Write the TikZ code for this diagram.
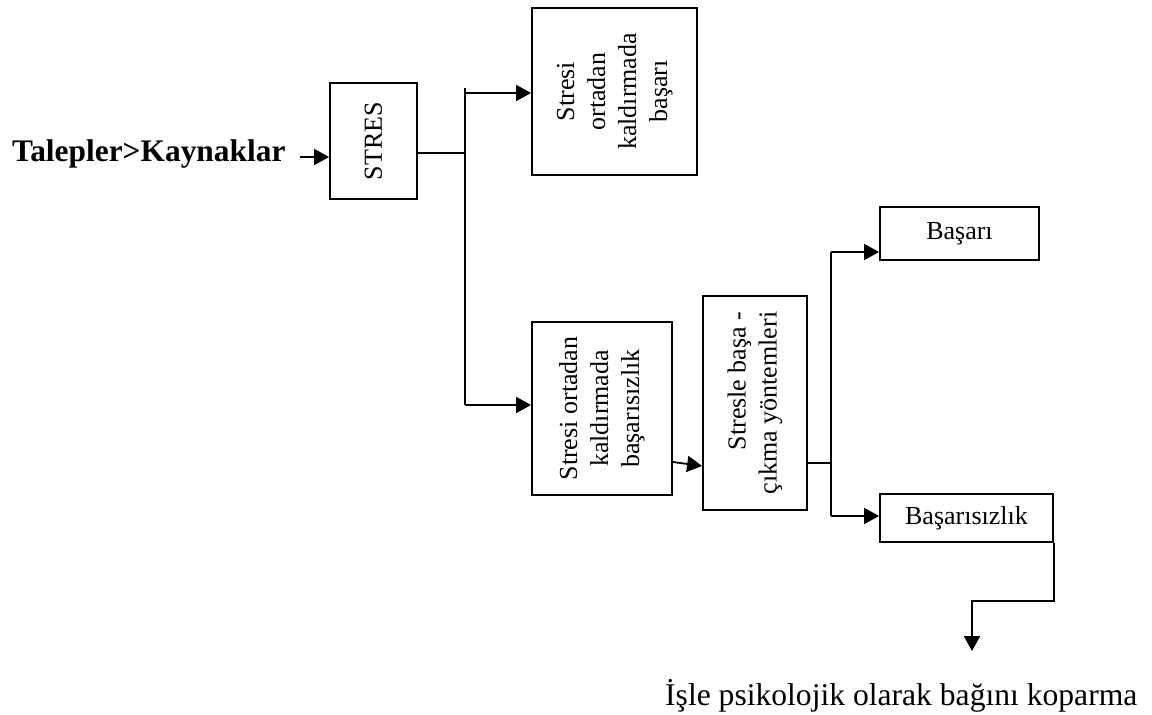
\documentclass[tikz,border=0pt]{standalone}
\usepackage{fontspec}
\setmainfont{Liberation Serif}
\usetikzlibrary{arrows.meta}
\begin{document}
\begin{tikzpicture}[x=1pt,y=-1pt,
  box/.style={draw, line width=1.8pt, inner sep=0pt, font=\fontsize{26}{31}\selectfont},
  big/.style={inner sep=0pt, font=\fontsize{31.6}{36}\selectfont},
  ln/.style={line width=1.8pt},
  arr/.style={ln, -{Triangle[length=15pt,width=16pt]}}]
\useasboundingbox (0,0) rectangle (1152,715);
% nodes
\node[box, minimum width=87pt, minimum height=116pt] (stres) at (373.5,141) {\rotatebox{90}{STRES}};
\node[box, minimum width=165pt, minimum height=167pt] (succ) at (614.5,91.5)
  {\rotatebox{90}{\begin{tabular}{@{}c@{}}Stresi\\ortadan\\kaldırmada\\başarı\end{tabular}}};
\node[box, minimum width=140pt, minimum height=173pt] (fail) at (602,408.5)
  {\rotatebox{90}{\begin{tabular}{@{}c@{}}Stresi ortadan\\kaldırmada\\başarısızlık\end{tabular}}};
\node[box, minimum width=104pt, minimum height=214pt] (cope) at (755,403)
  {\rotatebox{90}{\begin{tabular}{@{}r@{}}Stresle başa -\\çıkma yöntemleri\end{tabular}}};
\node[box, minimum width=159pt, minimum height=53pt] (bas) at (959.5,233.5) {Başarı};
\node[box, minimum width=173pt, minimum height=48pt] (basiz) at (966.5,518) {Başarısızlık};
\node[big, font=\bfseries\fontsize{31.4}{36}\selectfont, anchor=base west] (talep) at (12,161) {Talepler>Kaynaklar};
\node[big, anchor=base west] (isle) at (665,705) {İşle psikolojik olarak bağını koparma};
% coordinates
\coordinate (a0) at (300,157);
\coordinate (j1) at (465,153);
\coordinate (j1t) at (465,88);
\coordinate (j1a) at (465,93);
\coordinate (j1b) at (465,405);
\coordinate (f1) at (672,462);
\coordinate (c1) at (703,466);
\coordinate (j2) at (831,463);
\coordinate (j2a) at (831,252);
\coordinate (j2b) at (831,516);
\coordinate (k1) at (972,601);
\coordinate (tip) at (972,651);
% connectors
\draw[arr] (a0) -- (stres.west |- a0);
\draw[ln] (stres.east |- j1) -- (j1);
\draw[ln] (j1t) -- (j1b);
\draw[arr] (j1a) -- (succ.west |- j1a);
\draw[arr] (j1b) -- (fail.west |- j1b);
\draw[arr] (fail.east |- f1) -- (cope.west |- c1);
\draw[ln] (cope.east |- j2) -- (j2);
\draw[ln] (j2a) -- (j2b);
\draw[arr] (j2a) -- (bas.west |- j2a);
\draw[arr] (j2b) -- (basiz.west |- j2b);
\draw[arr] (basiz.south east) -- (basiz.south east |- k1) -- (k1) -- (tip);
\end{tikzpicture}
\end{document}
